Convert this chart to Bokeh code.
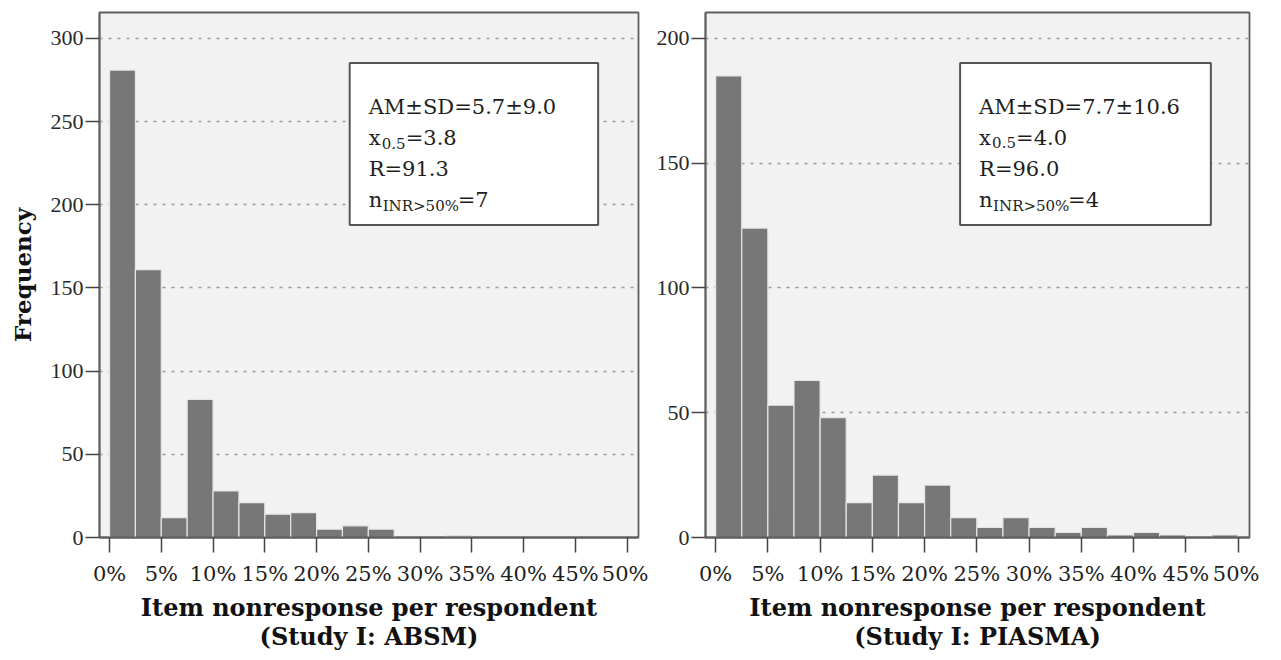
from bokeh.plotting import figure
from bokeh.layouts import row
from bokeh.models import FixedTicker, PrintfTickFormatter, BoxAnnotation, Label, Range1d
from bokeh.embed import file_html
from bokeh.resources import INLINE

# ---------------- data ----------------
bin_edges = [0, 2.5, 5, 7.5, 10, 12.5, 15, 17.5, 20, 22.5, 25,
             27.5, 30, 32.5, 35, 37.5, 40, 42.5, 45, 47.5, 50]
x_ticks = [0, 5, 10, 15, 20, 25, 30, 35, 40, 45, 50]

absm_counts = [281, 161, 12, 83, 28, 21, 14, 15, 5, 7,
               5, 0, 0, 1, 0, 0, 0, 0, 0, 0]
piasma_counts = [185, 124, 53, 63, 48, 14, 25, 14, 21, 8,
                 4, 8, 4, 2, 4, 1, 2, 1, 0, 1]

absm_y_ticks = [0, 50, 100, 150, 200, 250, 300]
piasma_y_ticks = [0, 50, 100, 150, 200]

absm_stats = ["AM\u00b1SD=5.7\u00b19.0", "3.8", "91.3", "7"]
piasma_stats = ["AM\u00b1SD=7.7\u00b110.6", "4.0", "96.0", "4"]

x_title = "Item nonresponse per respondent"
absm_subtitle = "(Study I: ABSM)"
piasma_subtitle = "(Study I: PIASMA)"
y_title = "Frequency"

# ---------------- style ----------------
SERIF = "DejaVu Serif"
TIMES = "Liberation Serif"
BAR_FILL = "#777777"
BAR_LINE = "#e6e6e6"
FRAME_BG = "#f2f2f2"
FRAME_LINE = "#5f5f5f"
TEXT = "#1e1e1e"
FH = 525
XMIN, XMAX = -0.97, 51.1


def make_panel(counts, yticks, ymax, stats, box, subtitle, frame_w, border_left, ylabel=None):
    p = figure(frame_width=frame_w, frame_height=FH, output_backend="svg",
               toolbar_location=None, x_range=Range1d(XMIN, XMAX), y_range=Range1d(0, ymax),
               min_border_left=border_left, min_border_right=10, min_border_top=12,
               min_border_bottom=100, background_fill_color=FRAME_BG,
               border_fill_color="white", outline_line_color=FRAME_LINE,
               outline_line_width=1.8)
    p.quad(left=bin_edges[:-1], right=bin_edges[1:], top=counts, bottom=0,
           fill_color=BAR_FILL, line_color=BAR_LINE, line_width=1.2)

    p.xgrid.visible = False
    p.ygrid.grid_line_color = "#9a9a9a"
    p.ygrid.grid_line_dash = "3 6"
    p.ygrid.grid_line_width = 1.5

    xa = p.xaxis[0]
    xa.ticker = FixedTicker(ticks=x_ticks)
    xa.formatter = PrintfTickFormatter(format="%d%%")
    xa.major_tick_in = 0
    xa.major_tick_out = 15
    xa.minor_tick_line_color = None
    xa.major_tick_line_color = "#444444"
    xa.major_tick_line_width = 1.5
    xa.axis_line_color = FRAME_LINE
    xa.axis_line_width = 1.8
    xa.major_label_text_font = SERIF
    xa.major_label_text_font_size = "21px"
    xa.major_label_text_color = TEXT
    xa.major_label_standoff = 9
    xa.axis_label = x_title + "\n" + subtitle
    xa.axis_label_text_font = SERIF
    xa.axis_label_text_font_style = "bold"
    xa.axis_label_text_font_size = "24px"
    xa.axis_label_text_line_height = 1.0
    xa.axis_label_text_color = "#111111"
    xa.axis_label_standoff = 4

    ya = p.yaxis[0]
    ya.ticker = FixedTicker(ticks=yticks)
    ya.major_tick_in = 0
    ya.major_tick_out = 14
    ya.minor_tick_line_color = None
    ya.major_tick_line_color = "#444444"
    ya.major_tick_line_width = 1.5
    ya.axis_line_color = FRAME_LINE
    ya.axis_line_width = 1.8
    ya.major_label_text_font = TIMES
    ya.major_label_text_font_size = "22px"
    ya.major_label_text_color = "#2a2a2a"
    ya.major_label_standoff = 2
    if ylabel:
        ya.axis_label = ylabel
        ya.axis_label_text_font = SERIF
        ya.axis_label_text_font_style = "bold"
        ya.axis_label_text_font_size = "23px"
        ya.axis_label_text_color = "#111111"
        ya.axis_label_standoff = 12

    # statistics box
    bl, br, bt, bb = box
    p.add_layout(BoxAnnotation(left=bl, right=br, top=bt, bottom=bb,
                               fill_color="white", fill_alpha=1.0,
                               line_color="#555555", line_width=2, line_alpha=1.0))
    ypx = FH / ymax
    xpx = frame_w / (XMAX - XMIN)
    tx = bl + 19 / xpx

    def lab(text, dy, dx=0, size="21px"):
        p.add_layout(Label(x=tx, y=bt - dy / ypx, x_offset=dx, text=text,
                           text_font=SERIF, text_font_size=size, text_color=TEXT,
                           text_baseline="alphabetic", text_align="left"))

    lab(stats[0], 44)
    lab("x", 75)
    lab("0.5", 80, dx=13, size="15px")
    lab("=" + stats[1], 75, dx=37)
    lab("R=" + stats[2], 106)
    lab("n", 137)
    lab("INR>50%", 143, dx=14, size="15px")
    lab("=" + stats[3], 137, dx=89)
    return p


p1 = make_panel(absm_counts, absm_y_ticks, 315.6, absm_stats,
                (23.2, 47.2, 285.2, 187.8), absm_subtitle, 539, 99, ylabel=y_title)
p2 = make_panel(piasma_counts, piasma_y_ticks, 210.4, piasma_stats,
                (23.4, 47.4, 190.2, 125.2), piasma_subtitle, 544, 57)

layout = row(p1, p2)
open("out.html", "w").write(file_html(layout, INLINE))
